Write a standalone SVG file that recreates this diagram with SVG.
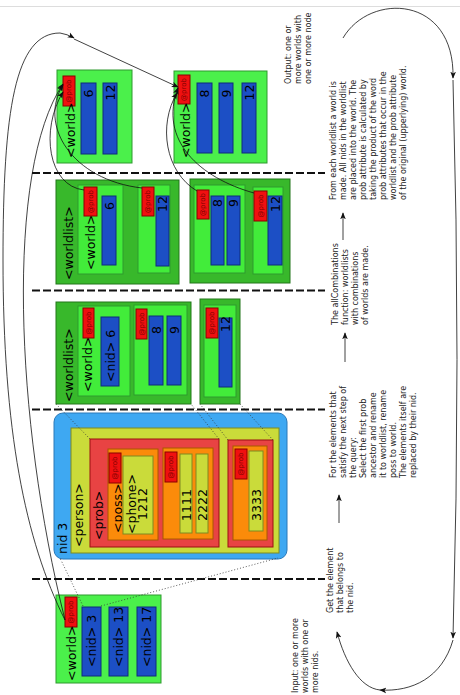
<svg xmlns="http://www.w3.org/2000/svg" width="460" height="695" viewBox="0 0 460 695">
<defs>
<style>
.w{fill:#4bf04b;stroke:#2f9a2f;stroke-width:1}
.wl{fill:#38b82b;stroke:#22761a;stroke-width:1}
.wi{fill:#42ec3a;stroke:#2f9a2f;stroke-width:1}
.n{fill:#1c4fc5;stroke:#0e2d7a;stroke-width:1}
.p{fill:#f01010;stroke:#8a0000;stroke-width:1}
.y{fill:#cadb3a;stroke:#7e8a20;stroke-width:1}
.o{fill:#fb8b0a;stroke:#a85800;stroke-width:1}
.r{fill:#e84343;stroke:#9a1010;stroke-width:1}
.pt{font-family:"DejaVu Sans",sans-serif;font-size:7px;fill:#7a0000;text-anchor:middle}
.t{font-family:"DejaVu Sans",sans-serif;font-size:12.5px;fill:#000}
.m{text-anchor:middle}
.s{font-family:"DejaVu Sans",sans-serif;font-size:8px;fill:#222}
.dash{stroke:#111;stroke-width:1.8;stroke-dasharray:8 3;fill:none}
.dot{stroke:#333;stroke-width:0.8;stroke-dasharray:1 2;fill:none}
.c{stroke:#111;stroke-width:0.8;fill:none;marker-end:url(#ah)}
</style>
<marker id="ah" viewBox="0 0 10 10" refX="9" refY="5" markerWidth="7" markerHeight="7" markerUnits="userSpaceOnUse" orient="auto">
<path d="M0,1 L10,5 L0,9 L2.5,5 z" fill="#111"/>
</marker>
</defs>
<rect width="460" height="695" fill="#fff"/>
<line x1="0" y1="6.5" x2="460" y2="6.5" stroke="#ddd" stroke-width="1"/>

<g id="separators">
<line class="dash" x1="32" y1="579" x2="325" y2="579"/>
<line class="dash" x1="32" y1="409.5" x2="325" y2="409.5"/>
<line class="dash" x1="32" y1="290.5" x2="325" y2="290.5"/>
<line class="dash" x1="32" y1="173" x2="325" y2="173"/>
</g>

<g id="input-world">
<rect class="w" x="56" y="595" width="105" height="88"/>
<rect class="p" x="65" y="597" width="12" height="30"/>
<text class="pt" transform="translate(73.3,612) rotate(-90)">@prob</text>
<text class="t" transform="translate(76,681) rotate(-90)">&lt;world&gt;</text>
<rect class="n" x="82" y="607" width="19" height="69"/>
<rect class="n" x="109" y="607" width="19" height="69"/>
<rect class="n" x="137" y="607" width="19" height="69"/>
<text class="t" transform="translate(96,667) rotate(-90)">&lt;nid&gt; 3</text>
<text class="t" transform="translate(123,667) rotate(-90)">&lt;nid&gt; 13</text>
<text class="t" transform="translate(151,667) rotate(-90)">&lt;nid&gt; 17</text>
</g>

<g id="person">
<rect x="54" y="413" width="233" height="146" rx="9" fill="#3ea8f2" stroke="#2a78b8" stroke-width="1"/>
<rect class="y" x="71" y="428" width="208" height="125"/>
<text class="t" fill="#102050" transform="translate(66.5,554) rotate(-90)">nid 3</text>
<text class="t" transform="translate(82.5,547) rotate(-90)">&lt;person&gt;</text>
<rect class="r" x="90" y="439" width="129" height="108"/>
<text class="t" transform="translate(102.5,540) rotate(-90)">&lt;prob&gt;</text>
<rect class="o" x="108" y="449" width="50" height="91"/>
<text class="t" transform="translate(121.5,533) rotate(-90)">&lt;poss&gt;</text>
<rect class="p" x="109" y="453" width="12" height="30"/>
<text class="pt" transform="translate(117.3,468) rotate(-90)">@prob</text>
<rect class="y" x="123" y="456" width="30" height="78"/>
<text class="t m" transform="translate(135.5,504) rotate(-90)">&lt;phone&gt;</text>
<text class="t m" transform="translate(146.5,504) rotate(-90)">1212</text>
<rect class="o" x="163" y="448" width="50" height="91"/>
<rect class="p" x="165" y="452" width="12" height="30"/>
<text class="pt" transform="translate(173.3,467) rotate(-90)">@prob</text>
<rect class="y" x="180" y="454" width="12" height="79"/>
<rect class="y" x="196" y="454" width="12" height="79"/>
<text class="t m" transform="translate(190.5,505) rotate(-90)">1111</text>
<text class="t m" transform="translate(206.5,505) rotate(-90)">2222</text>
<rect class="r" x="228" y="440" width="45" height="107"/>
<rect class="o" x="233" y="446" width="34" height="94"/>
<rect class="p" x="235" y="449" width="12" height="30"/>
<text class="pt" transform="translate(243.3,464) rotate(-90)">@prob</text>
<rect class="y" x="249" y="451" width="14" height="80"/>
<text class="t m" transform="translate(260.5,505) rotate(-90)">3333</text>
</g>

<g id="worldlist-a1">
<rect class="wl" x="56" y="302" width="135" height="102"/>
<text class="t" transform="translate(72.5,402) rotate(-90)">&lt;worldlist&gt;</text>
<rect class="wi" x="78" y="306" width="52" height="90"/>
<text class="t" transform="translate(91.5,392) rotate(-90)">&lt;world&gt;</text>
<rect class="p" x="83" y="308" width="11" height="30"/>
<text class="pt" transform="translate(90.8,323) rotate(-90)">@prob</text>
<rect class="n" x="101" y="317" width="18" height="69"/>
<text class="t" transform="translate(114.5,382) rotate(-90)">&lt;nid&gt; 6</text>
<rect class="wi" x="134" y="305" width="53" height="90"/>
<rect class="p" x="136" y="309" width="11" height="30"/>
<text class="pt" transform="translate(143.8,324) rotate(-90)">@prob</text>
<rect class="n" x="149" y="316" width="14" height="69"/>
<rect class="n" x="167" y="316" width="14" height="69"/>
<text class="t" transform="translate(160.5,334) rotate(-90)">8</text>
<text class="t" transform="translate(178.5,334) rotate(-90)">9</text>
</g>

<g id="worldlist-b1">
<rect class="wl" x="200" y="299" width="40" height="105"/>
<rect class="wi" x="204" y="305" width="32" height="92"/>
<rect class="p" x="206" y="308" width="12" height="30"/>
<text class="pt" transform="translate(214.3,323) rotate(-90)">@prob</text>
<rect class="n" x="219" y="318" width="13" height="69"/>
<text class="t" transform="translate(230,332) rotate(-90)">12</text>
</g>

<g id="worldlist-a2">
<rect class="wl" x="56" y="180" width="123" height="104"/>
<text class="t" transform="translate(72.5,280) rotate(-90)">&lt;worldlist&gt;</text>
<rect class="wi" x="78" y="185" width="45" height="89"/>
<text class="t" transform="translate(94.5,270) rotate(-90)">&lt;world&gt;</text>
<rect class="p" x="84" y="187" width="13" height="29"/>
<text class="pt" transform="translate(92.8,201.5) rotate(-90)">@prob</text>
<rect class="n" x="102" y="196" width="14" height="69"/>
<text class="t" transform="translate(113.5,210) rotate(-90)">6</text>
<rect class="wi" x="138" y="185" width="32" height="88"/>
<rect class="p" x="142" y="187" width="12" height="29"/>
<text class="pt" transform="translate(150.3,201.5) rotate(-90)">@prob</text>
<rect class="n" x="156" y="196" width="13" height="70"/>
<text class="t" transform="translate(167,212) rotate(-90)">12</text>
</g>

<g id="worldlist-b2">
<rect class="wl" x="190" y="179" width="100" height="104"/>
<rect class="wi" x="194" y="185" width="51" height="88"/>
<rect class="p" x="197" y="190" width="12" height="29"/>
<text class="pt" transform="translate(205.3,204.5) rotate(-90)">@prob</text>
<rect class="n" x="211" y="196" width="13" height="69"/>
<rect class="n" x="227" y="196" width="13" height="69"/>
<text class="t" transform="translate(222,207) rotate(-90)">8</text>
<text class="t" transform="translate(238,207) rotate(-90)">9</text>
<rect class="wi" x="253" y="187" width="30" height="87"/>
<rect class="p" x="254" y="191" width="13" height="30"/>
<text class="pt" transform="translate(262.8,206) rotate(-90)">@prob</text>
<rect class="n" x="268" y="196" width="14" height="69"/>
<text class="t" transform="translate(279.5,212) rotate(-90)">12</text>
</g>

<g id="output-world-1">
<rect class="w" x="57" y="70" width="75" height="93"/>
<rect class="p" x="63" y="76" width="12" height="30"/>
<text class="pt" transform="translate(71.3,91) rotate(-90)">@prob</text>
<text class="t" transform="translate(74.5,158) rotate(-90)">&lt;world&gt;</text>
<rect class="n" x="81" y="83" width="15" height="71"/>
<rect class="n" x="103" y="83" width="14" height="71"/>
<text class="t" transform="translate(93,97.5) rotate(-90)">6</text>
<text class="t" transform="translate(114.5,100.5) rotate(-90)">12</text>
</g>

<g id="output-world-2">
<rect class="w" x="174" y="71" width="93" height="92"/>
<rect class="p" x="178" y="75" width="12" height="29"/>
<text class="pt" transform="translate(186.3,89.5) rotate(-90)">@prob</text>
<text class="t" transform="translate(189.5,158) rotate(-90)">&lt;world&gt;</text>
<rect class="n" x="197" y="83" width="15" height="70"/>
<rect class="n" x="219" y="83" width="14" height="70"/>
<rect class="n" x="242" y="83" width="14" height="70"/>
<text class="t" transform="translate(209,97.5) rotate(-90)">8</text>
<text class="t" transform="translate(230.5,97.5) rotate(-90)">9</text>
<text class="t" transform="translate(253.5,100.5) rotate(-90)">12</text>
</g>

<g id="step-input">
<text class="s" transform="translate(298,693) rotate(-90)"><tspan x="0" y="0">Input: one or more</tspan><tspan x="0" y="10">worlds with one or</tspan><tspan x="0" y="20">more nids.</tspan></text>
</g>
<g id="step-get">
<text class="s" transform="translate(333,613) rotate(-90)"><tspan x="0" y="0">Get the element</tspan><tspan x="0" y="10">that belongs to</tspan><tspan x="0" y="20">the nid.</tspan></text>
</g>
<g id="step-select">
<text class="s" transform="translate(336,478) rotate(-90)"><tspan x="0" y="0">For the elements that</tspan><tspan x="0" y="10">satisfy the next step of</tspan><tspan x="0" y="20">the query:</tspan><tspan x="0" y="30">Select the first prob</tspan><tspan x="0" y="40">ancestor and rename</tspan><tspan x="0" y="50">it to worldlist, rename</tspan><tspan x="0" y="60">poss to world.</tspan><tspan x="0" y="70">The elements itself are</tspan><tspan x="0" y="80">replaced by their nid.</tspan></text>
</g>
<g id="step-combine">
<text class="s" transform="translate(338,325) rotate(-90)"><tspan x="0" y="0">The allCombinations</tspan><tspan x="0" y="10">function: worldlists</tspan><tspan x="0" y="20">with combinations</tspan><tspan x="0" y="30">of worlds are made.</tspan></text>
</g>
<g id="step-merge">
<text class="s" transform="translate(336,200) rotate(-90)"><tspan x="0" y="0">From each worldlist a world is</tspan><tspan x="0" y="10">made. All nids in the worldlist</tspan><tspan x="0" y="20">are placed into the world. The</tspan><tspan x="0" y="30">prob attribute is calculated by</tspan><tspan x="0" y="40">taking the product of the word</tspan><tspan x="0" y="50">prob attributes that occur in the</tspan><tspan x="0" y="60">worldlist and the prob attribute</tspan><tspan x="0" y="70">of the original (upperlying) world.</tspan></text>
</g>
<g id="step-output">
<text class="s" transform="translate(291,84) rotate(-90)"><tspan x="0" y="0">Output: one or</tspan><tspan x="0" y="10">more worlds with</tspan><tspan x="0" y="20">one or more node</tspan></text>
</g>

<g id="connectors">
<line class="dot" x1="83" y1="606" x2="60" y2="558"/>
<line class="dot" x1="101" y1="606" x2="278" y2="558"/>
<line class="dot" x1="90" y1="439" x2="56" y2="404"/>
<line class="dot" x1="219" y1="439" x2="191" y2="404"/>
<line class="dot" x1="228" y1="440" x2="200" y2="404"/>
<line class="dot" x1="273" y1="440" x2="240" y2="404"/>
<path class="c" d="M84 190 C48 186,40 130,63 92"/>
<path class="c" d="M142 188 C72 180,38 125,63 85"/>
<path class="c" d="M197 191 C165 172,158 125,177 93"/>
<path class="c" d="M254 193 C200 178,158 140,178 88"/>
<path class="c" d="M65 620 C15 420,5 170,63 84"/>
<path class="c" d="M65 620 C25 540,3 430,3 260 C3 110,15 33,60 33 Q67 34,74 38"/>
<path class="c" d="M74 39 L178 87"/>
<path class="c" d="M343 38 C370 -8,455 -5,453 78"/>
<path class="c" d="M453 80 Q461 360,453 638"/>
<path class="c" d="M453 640 C442 678,412 692,380 690"/>
<path class="c" d="M380 690 C360 688,345 662,337 632"/>
<path class="c" d="M339 523 L339 495"/>
<path class="c" d="M345 362 L345 333"/>
<path class="c" d="M343 240 L343 213"/>
</g>
</svg>
